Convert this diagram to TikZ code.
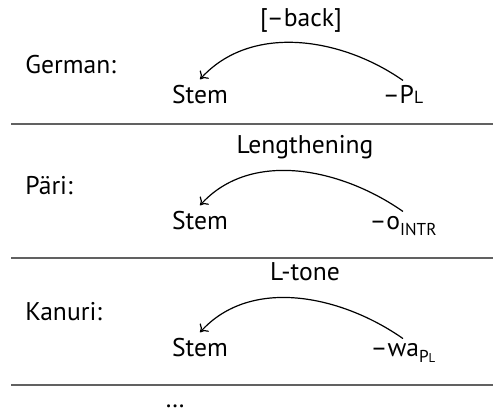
\documentclass[tikz,border=0pt]{standalone}
\usepackage{fontspec}
\setmainfont{PT Sans}
\usetikzlibrary{arrows.meta}
\newcommand\smcap[1]{{\fontsize{8.8pt}{9pt}\selectfont #1}}
\newcommand\subcap[1]{{\fontsize{8.6pt}{9pt}\selectfont #1}}
\newcommand\subsmc[1]{{\fontsize{6.4pt}{7pt}\selectfont #1}}
\begin{document}
\begin{tikzpicture}[x=0.5pt,y=-0.5pt,
  font=\fontsize{12.8pt}{14pt}\selectfont,
  lang/.style={anchor=west,inner sep=0pt},
  word/.style={inner sep=0pt,anchor=base},
  rulestyle/.style={draw=black!62, line width=0.75pt},
  arcstyle/.style={-{To[length=3.5pt,width=6pt]}, line width=0.6pt, out=145, in=48, looseness=0.95},
  lab/.style={inner sep=0pt,anchor=base}]
\useasboundingbox (0,0) rectangle (493,415);
% row 1
\node[lang] (g) at (25,65) {German:};
\node[word] (s1) at (200,104) {Stem};
\node[word] (p1) at (403,104) {–P\smcap{L}};
\node[lab] (l1) at (301,27) {[–back]};
\draw[arcstyle] ([yshift=2.5pt]p1.north) to ([yshift=3pt]s1.north);
\coordinate (r1a) at (11,124); \coordinate (r1b) at (493,124);
\draw[rulestyle] (r1a) -- (r1b);
% row 2
\node[lang] (pa) at (25,186) {Päri:};
\node[word] (s2) at (200,230) {Stem};
\node[word] (p2) at (403,230) {–o\raisebox{-0.45ex}{\subcap{INTR}}};
\node[lab] (l2) at (305,154) {Lengthening};
\draw[arcstyle] ([yshift=2.5pt]p2.north) to ([yshift=3pt]s2.north);
\coordinate (r2a) at (11,258); \coordinate (r2b) at (493,258);
\draw[rulestyle] (r2a) -- (r2b);
% row 3
\node[lang] (k) at (25,312) {Kanuri:};
\node[word] (s3) at (200,357) {Stem};
\node[word] (p3) at (403,357) {–wa\raisebox{-0.45ex}{\subcap{P}\subsmc{L}}};
\node[lab] (l3) at (305,281) {L-tone};
\draw[arcstyle] ([yshift=2.5pt]p3.north) to ([yshift=3pt]s3.north);
\coordinate (r3a) at (11,385); \coordinate (r3b) at (493,385);
\draw[rulestyle] (r3a) -- (r3b);
% dots
\node[word] (dots) at (175,408) {…};
\end{tikzpicture}
\end{document}
